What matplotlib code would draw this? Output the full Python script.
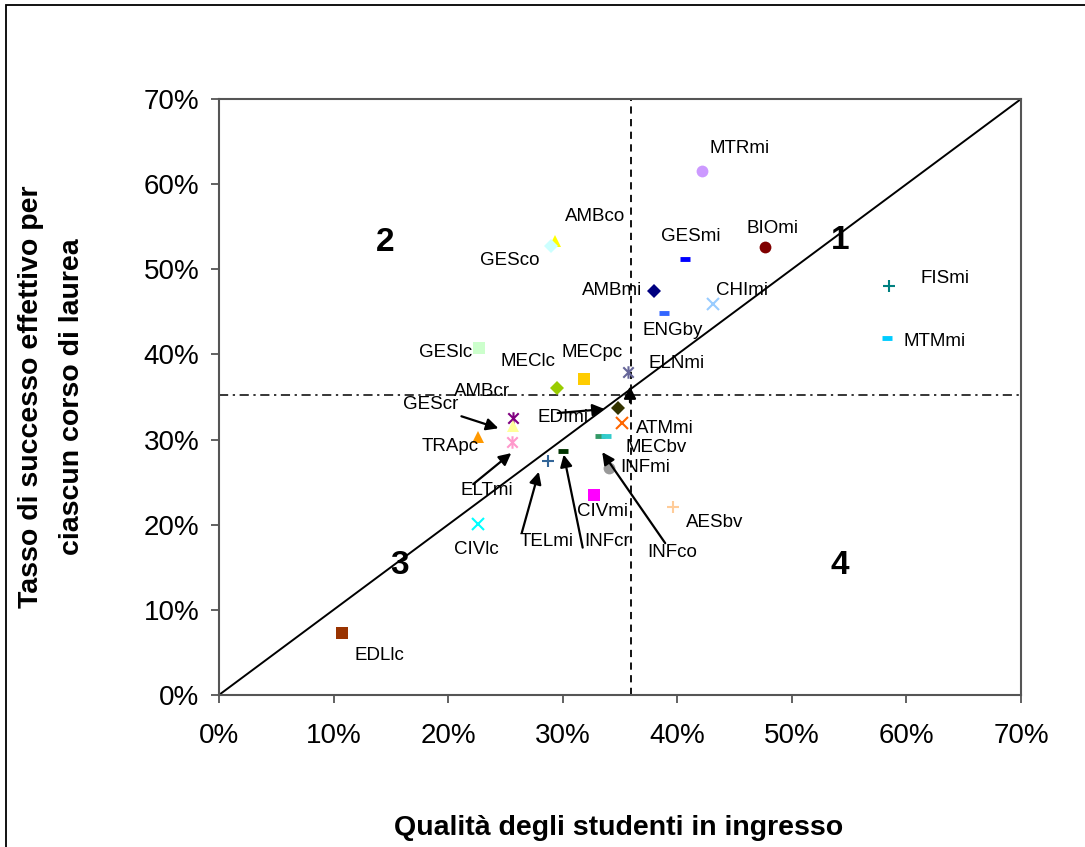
import matplotlib
matplotlib.use("Agg")
import matplotlib.pyplot as plt
from matplotlib.path import Path
from matplotlib.patches import Rectangle
from matplotlib.ticker import PercentFormatter
from matplotlib.transforms import offset_copy

plt.rcParams["font.family"] = ["Liberation Sans", "DejaVu Sans"]

# corsi di laurea: qualita in ingresso (x, %) e tasso di successo (y, %)
names = ["MTRmi", "BIOmi", "GESmi", "AMBco", "GESco", "AMBmi", "CHImi", "ENGby",
         "FISmi", "MTMmi", "GESlc", "MEClc", "MECpc", "ELNmi", "EDImi", "ATMmi",
         "GEScr", "AMBcr", "TRApc", "ELTmi", "MECbv", "INFco", "INFcr", "TELmi",
         "INFmi", "CIVmi", "AESbv", "CIVlc", "EDLlc"]
qual = [42.2, 47.7, 40.7, 29.3, 29.0, 38.0, 43.1, 38.8,
        58.5, 58.3, 22.7, 29.5, 31.9, 35.7, 34.8, 35.2,
        25.7, 25.7, 22.6, 25.6, 33.25, 33.8, 30.0, 28.7,
        34.0, 32.7, 39.6, 22.6, 10.7]
succ = [61.5, 52.6, 51.2, 53.3, 52.7, 47.5, 45.9, 44.9,
        48.0, 41.9, 40.7, 36.1, 37.1, 37.9, 33.7, 31.9,
        32.5, 31.6, 30.3, 29.7, 30.4, 30.4, 28.7, 27.5,
        26.7, 23.5, 22.1, 20.1, 7.3]

colors = ["#CC99FF", "#800000", "#0000FF", "#FFFF00", "#CCFFFF", "#000080", "#99CCFF", "#3366FF",
          "#008080", "#00CCFF", "#CCFFCC", "#99CC00", "#FFCC00", "#666699", "#333300", "#FF6600",
          "#800080", "#FFFF99", "#FF9900", "#FF99CC", "#339966", "#33CCCC", "#003300", "#336699",
          "#999999", "#FF00FF", "#FFCC99", "#00FFFF", "#993300"]

star = Path([(-1, -1), (1, 1), (-1, 1), (1, -1), (0, -1.2), (0, 1.2)],
            [Path.MOVETO, Path.LINETO] * 3)
markers = ["o", "o", "_", "^", "D", "D", "x", "_",
           "+", "_", "s", "D", "s", star, "D", "x",
           star, "^", "^", star, "_", "_", "_", "+",
           "o", "s", "+", "x", "s"]

# posizione delle etichette rispetto al punto (pixel)
label_off = {
    "MTRmi": (37, 23), "BIOmi": (7, 19), "GESmi": (5, 23), "AMBco": (40, 25),
    "GESco": (-41, -14), "AMBmi": (-42, 0), "CHImi": (29, 14), "ENGby": (9, -18),
    "FISmi": (56, 8), "MTMmi": (48, -3), "GESlc": (-33, -4), "MEClc": (-29, 26),
    "MECpc": (8, 27), "ELNmi": (49, 9), "EDImi": (-55, -9), "ATMmi": (43, -5),
    "GEScr": (-83, 14), "AMBcr": (-31, 34), "TRApc": (-28, -9), "ELTmi": (-25, -48),
    "MECbv": (56, -11), "INFco": (66, -116), "INFcr": (44, -91), "TELmi": (-1, -81),
    "INFmi": (37, 0), "CIVmi": (9, -17), "AESbv": (42, -16), "CIVlc": (-2, -26),
    "EDLlc": (38, -23),
}
# frecce: (coda, punta) rispetto al punto (pixel)
arrows = {
    "GEScr": ((-52, 2), (-15, -10)),
    "ELTmi": ((-39, -42), (-1, -11)),
    "TELmi": ((-26, -72), (-9, -11)),
    "INFcr": ((20, -97), (1, -4)),
    "INFco": ((59, -107), (-4, -16)),
    "EDImi": ((-60, -5), (-13, -1)),
    "ELNmi": ((2, -30), (2, -14)),
}

x_cut = 36.0
y_cut = 35.2
quadrants = [("1", 54.2, 53.4), ("2", 14.5, 53.1), ("3", 15.8, 15.2), ("4", 54.2, 15.2)]

fig = plt.figure(figsize=(10.85, 8.47), dpi=100)
ax = fig.add_axes([0.2018, 0.1795, 0.7392, 0.7036])

ax.plot([0, 70], [0, 70], color="black", lw=1.4, zorder=1)
ax.axvline(x_cut, color="black", lw=1.3, ls=(0, (4, 3)), zorder=1)
ax.axhline(y_cut, color="black", lw=1.1, ls=(0, (6, 3, 1.5, 3)), zorder=1)

for n, x, y, c, m in zip(names, qual, succ, colors, markers):
    if m == "_":
        ax.plot(x, y, marker=m, color=c, ms=7, mew=3.5, ls="none", zorder=3)
    elif m in ("x", "+") or isinstance(m, Path):
        ax.plot(x, y, marker=m, color=c, ms=9, mew=1.5, ls="none", zorder=3)
    elif m == "D":
        ax.plot(x, y, marker=m, color=c, ms=7.5, mew=0, ls="none", zorder=3)
    else:
        ax.plot(x, y, marker=m, color=c, ms=8.5, mew=0, ls="none", zorder=3)
    dx, dy = label_off[n]
    ax.annotate(n, (x, y), xytext=(dx, dy), textcoords="offset pixels",
                ha="center", va="center", fontsize=13.5, zorder=4)
    if n in arrows:
        (tx, ty), (hx, hy) = arrows[n]
        ax.annotate("", xy=(x, y), xycoords=offset_copy(ax.transData, fig, x=hx, y=hy, units="dots"),
                    xytext=(x, y), textcoords=offset_copy(ax.transData, fig, x=tx, y=ty, units="dots"),
                    arrowprops=dict(arrowstyle="-|>", color="black", lw=1.6,
                                    shrinkA=0, shrinkB=0, mutation_scale=18),
                    zorder=4)

for q, x, y in quadrants:
    ax.text(x, y, q, fontsize=24, fontweight="bold", ha="center", va="center")

ax.set_xlim(0, 70)
ax.set_ylim(0, 70)
ax.set_xticks(range(0, 71, 10))
ax.set_yticks(range(0, 71, 10))
ax.xaxis.set_major_formatter(PercentFormatter(100, decimals=0))
ax.yaxis.set_major_formatter(PercentFormatter(100, decimals=0))
ax.tick_params(labelsize=20, length=6, width=1.3, color="#555555", direction="out")
ax.tick_params(axis="x", pad=14)
ax.tick_params(axis="y", pad=8)
for s in ax.spines.values():
    s.set_color("#555555")
    s.set_linewidth(1.5)

fig.text(0.5705, 0.0224, "Qualità degli studenti in ingresso", fontsize=20.5,
         fontweight="bold", ha="center", va="center")
fig.text(0.0286, 0.532, "Tasso di successo effettivo per", rotation=90, fontsize=20.5,
         fontweight="bold", ha="center", va="center")
fig.text(0.0664, 0.532, "ciascun corso di laurea", rotation=90, fontsize=20.5,
         fontweight="bold", ha="center", va="center")

fig.patches.append(Rectangle((6 / 1085, -0.1), 1.2, 1.1 - 5 / 847, transform=fig.transFigure,
                             fill=False, edgecolor="black", lw=1.3))

fig.savefig("out.png", dpi=100)
